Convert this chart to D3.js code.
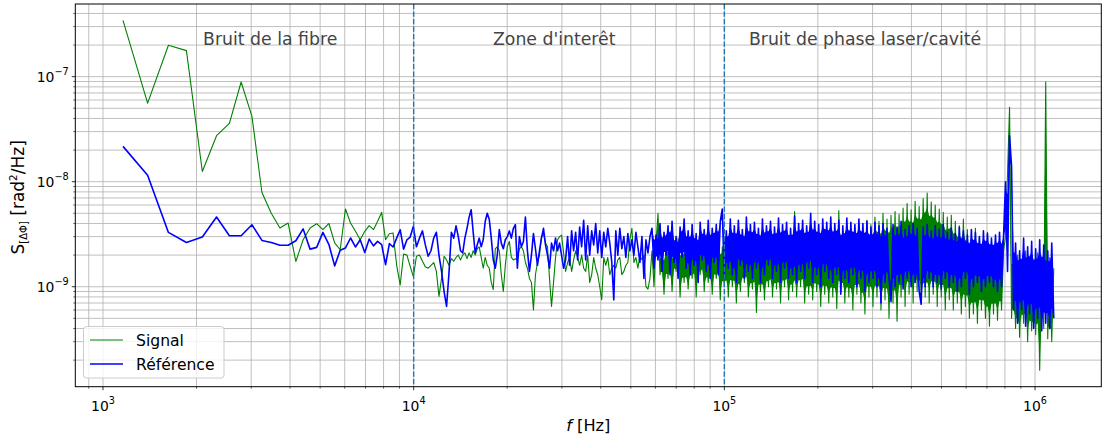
<!DOCTYPE html>
<html><head><meta charset="utf-8">
<script src="https://cdn.jsdelivr.net/npm/d3@7"></script>
<style>body{margin:0;background:#fff}svg{display:block}</style>
</head><body>
<svg id="chart" width="1102" height="439"></svg>
<script>
// ---------------- data ----------------
const binHz = 232;                       // FFT bin width
const lowBins = d3.range(5, 68);         // bins 5..67 (1160 Hz .. 15544 Hz), every bin
const highStartHz = 15776;               // dense part: sampled grid, ratio per sample
const highRatio = 1.015;
const denseFrom = 88;                    // index in the high part where the trace becomes a solid band

const signalLow = [
3.43e-7,5.6e-8,1.99e-7,1.77e-7,1.25e-8,2.74e-8,3.59e-8,8.9e-8,4.19e-8,7.9e-9,
5.0e-9,3.62e-9,4.04e-9,1.74e-9,2.8e-9,3.62e-9,3.98e-9,3.49e-9,4.0e-9,2.61e-9,
2.25e-9,5.5e-9,4.04e-9,3.37e-9,2.8e-9,3.37e-9,3.81e-9,3.49e-9,4.2e-9,5.1e-9,
2.8e-9,3.2e-9,3.25e-9,1.6e-9,1.04e-9,2.05e-9,2.0e-9,1.56e-9,1.25e-9,1.95e-9,
2.0e-9,1.75e-9,1.55e-9,1.5e-9,1.6e-9,1.7e-9,1.4e-9,8.1e-10,1.2e-9,1.95e-9,
1.8e-9,1.6e-9,1.85e-9,1.75e-9,1.9e-9,2.0e-9,1.8e-9,2.0e-9,2.1e-9,1.85e-9,
2.1e-9,1.9e-9,2.2e-9];

const referenceLow = [
2.17e-8,1.15e-8,3.29e-9,2.64e-9,2.97e-9,4.61e-9,3.06e-9,3.06e-9,3.89e-9,2.76e-9,
2.64e-9,2.48e-9,2.48e-9,2.74e-9,3.55e-9,2.28e-9,2.37e-9,3.29e-9,2.52e-9,1.58e-9,
2.22e-9,2.34e-9,2.91e-9,2.39e-9,2.8e-9,2.12e-9,2.84e-9,2.45e-9,2.7e-9,2.52e-9,
1.62e-9,2.57e-9,2.39e-9,2.9e-9,3.49e-9,2.28e-9,2.8e-9,2.97e-9,3.75e-9,2.4e-9,
2.9e-9,3.4e-9,2.5e-9,1.95e-9,2.2e-9,2.9e-9,3.3e-9,2.0e-9,1.4e-9,9.0e-10,
6.5e-10,1.35e-9,3.3e-9,2.9e-9,3.8e-9,3.0e-9,2.2e-9,2.1e-9,2.9e-9,3.6e-9,
4.6e-9,5.4e-9,3.3e-9];

const signalHigh = [
2.0e-9,2.3e-9,2.4e-9,1.9e-9,1.5e-9,1.9e-9,1.6e-9,1.5e-9,1.1e-9,9.4e-10,
2.3e-9,2.4e-9,2.2e-9,1.3e-9,9.0e-10,1.6e-9,2.4e-9,2.7e-9,1.9e-9,1.8e-9,
1.85e-9,1.8e-9,2.3e-9,2.4e-9,2.2e-9,1.7e-9,1.5e-9,1.2e-9,1.1e-9,6.0e-10,
1.3e-9,1.7e-9,2.0e-9,3.0e-9,3.2e-9,2.6e-9,2.4e-9,1.2e-9,6.5e-10,1.1e-9,
1.9e-9,2.8e-9,3.0e-9,3.1e-9,2.1e-9,1.4e-9,1.7e-9,1.9e-9,1.4e-9,1.8e-9,
2.2e-9,1.9e-9,1.6e-9,2.0e-9,1.5e-9,1.4e-9,2.0e-9,1.1e-9,1.3e-9,1.9e-9,
1.5e-9,1.3e-9,1.0e-9,7.5e-10,1.9e-9,1.6e-9,1.9e-9,1.3e-9,1.5e-9,1.6e-9,
1.5e-9,1.8e-9,1.9e-9,1.3e-9,1.4e-9,1.6e-9,1.7e-9,2.8e-9,3.6e-9,1.7e-9,
1.9e-9,1.5e-9,2.0e-9,1.8e-9,2.0e-9,1.0e-9,9.5e-10,1.2e-9,2.2e-9,1.0e-9,
2.6e-9,5.0e-9,1.3e-9,2.0e-9,8.5e-10,2.4e-9,1.2e-9,2.8e-9,9.0e-10,2.1e-9,
1.4e-9,2.9e-9,8.0e-10,2.3e-9,1.1e-9,2.6e-9,9.5e-10,2.0e-9,1.2e-9,2.7e-9,
8.0e-10,2.2e-9,1.3e-9,3.0e-9,9.0e-10,2.4e-9,1.1e-9,2.5e-9,8.5e-10,2.2e-9,
1.2e-9,2.8e-9,7.5e-10,2.4e-9,1.0e-9,2.6e-9,8.0e-10,2.9e-9,1.0e-9,2.5e-9,
7.0e-10,3.1e-9,9.0e-10,2.3e-9,1.1e-9,2.7e-9,8.0e-10,2.4e-9,9.5e-10,3.0e-9,
5.7e-10,2.6e-9,9.0e-10,2.8e-9,7.5e-10,2.4e-9,1.0e-9,3.2e-9,8.0e-10,2.5e-9,
9.5e-10,2.9e-9,7.0e-10,2.6e-9,1.0e-9,3.3e-9,7.5e-10,2.7e-9,9.0e-10,5.2e-9,
8.0e-10,2.8e-9,1.0e-9,3.4e-9,7.0e-10,2.9e-9,8.5e-10,3.1e-9,7.5e-10,3.5e-9,
9.0e-10,2.7e-9,6.5e-10,3.3e-9,8.5e-10,3.0e-9,7.0e-10,3.6e-9,8.0e-10,3.2e-9,
6.2e-10,5.3e-9,9.0e-10,3.4e-9,7.0e-10,3.8e-9,8.0e-10,3.1e-9,6.0e-10,3.6e-9,
8.5e-10,4.0e-9,7.0e-10,3.5e-9,5.5e-10,4.3e-9,8.0e-10,3.9e-9,6.5e-10,4.6e-9,
8.0e-10,4.2e-9,6.0e-10,5.0e-9,7.5e-10,4.4e-9,5.0e-10,4.8e-9,7.0e-10,5.2e-9,
4.7e-10,4.9e-9,8.0e-10,5.6e-9,6.5e-10,6.2e-9,8.5e-10,5.4e-9,7.0e-10,6.5e-9,
9.0e-10,5.8e-9,7.5e-10,6.9e-9,8.0e-10,7.8e-9,7.0e-10,6.4e-9,8.5e-10,6.0e-9,
6.5e-10,5.5e-9,8.0e-10,5.1e-9,6.0e-10,4.6e-9,7.5e-10,4.8e-9,6.0e-10,4.2e-9,
7.0e-10,3.8e-9,5.5e-10,4.4e-9,6.5e-10,3.5e-9,5.0e-10,3.2e-9,5.5e-10,3.6e-9,
4.5e-10,3.0e-9,6.0e-10,2.8e-9,5.0e-10,3.3e-9,4.2e-10,2.7e-9,5.5e-10,2.9e-9,
4.8e-10,2.5e-9,6.0e-10,2.2e-9,3.0e-9,1.21e-8,5.1e-8,5.0e-10,2.0e-9,4.0e-10,
2.0e-9,3.3e-10,1.7e-9,4.5e-10,2.2e-9,3.0e-10,1.9e-9,3.8e-10,1.6e-9,3.5e-10,
2.1e-9,1.6e-10,1.8e-9,4.0e-10,8.96e-8,3.2e-10,1.9e-9,3.0e-10,1.5e-9];

const referenceHigh = [
2.1e-9,2.5e-9,2.9e-9,2.4e-9,2.8e-9,4.2e-9,5.0e-9,4.4e-9,2.9e-9,1.8e-9,
1.5e-9,2.0e-9,3.5e-9,2.6e-9,2.3e-9,2.8e-9,3.0e-9,3.4e-9,2.9e-9,3.6e-9,
3.9e-9,1.5e-9,3.0e-9,2.4e-9,2.7e-9,4.6e-9,2.2e-9,1.4e-9,2.0e-9,3.2e-9,
2.3e-9,1.6e-9,2.2e-9,2.9e-9,3.6e-9,2.5e-9,2.0e-9,1.5e-9,2.6e-9,2.2e-9,
2.9e-9,2.2e-9,2.6e-9,2.0e-9,1.5e-9,1.8e-9,3.0e-9,1.6e-9,3.4e-9,2.2e-9,
3.3e-9,1.8e-9,3.7e-9,2.4e-9,4.3e-9,1.8e-9,3.8e-9,2.0e-9,3.4e-9,2.5e-9,
4.0e-9,2.1e-9,3.4e-9,1.9e-9,3.3e-9,2.4e-9,3.6e-9,2.6e-9,1.7e-9,7.5e-10,
3.4e-9,2.0e-9,3.6e-9,2.3e-9,3.0e-9,1.9e-9,3.2e-9,2.2e-9,2.8e-9,2.0e-9,
3.3e-9,2.4e-9,1.7e-9,3.0e-9,1.2e-9,2.8e-9,2.1e-9,3.0e-9,3.6e-9,1.5e-9,
3.1e-9,1.8e-9,4.0e-9,1.4e-9,3.3e-9,2.0e-9,3.8e-9,1.3e-9,4.2e-9,1.7e-9,
3.0e-9,1.2e-9,3.7e-9,1.9e-9,4.4e-9,1.5e-9,3.4e-9,1.3e-9,3.9e-9,1.6e-9,
3.2e-9,1.1e-9,4.1e-9,1.8e-9,3.5e-9,1.4e-9,4.3e-9,1.2e-9,3.6e-9,1.7e-9,
3.9e-9,1.3e-9,4.2e-9,5.5e-9,1.2e-9,3.4e-9,1.5e-9,4.4e-9,1.3e-9,3.8e-9,
1.1e-9,4.3e-9,1.6e-9,3.5e-9,1.2e-9,4.6e-9,1.4e-9,3.9e-9,1.2e-9,4.1e-9,
1.5e-9,3.6e-9,1.1e-9,4.4e-9,1.3e-9,3.8e-9,1.6e-9,4.2e-9,1.2e-9,3.7e-9,
1.4e-9,4.5e-9,1.1e-9,3.9e-9,1.5e-9,4.1e-9,1.2e-9,3.6e-9,1.3e-9,4.7e-9,
1.1e-9,4.0e-9,1.4e-9,4.3e-9,1.2e-9,3.8e-9,1.5e-9,5.0e-9,1.1e-9,4.2e-9,
1.3e-9,3.9e-9,1.0e-9,4.4e-9,1.4e-9,4.1e-9,1.2e-9,4.6e-9,1.1e-9,4.0e-9,
1.3e-9,4.3e-9,8.5e-10,3.8e-9,1.2e-9,4.5e-9,1.1e-9,4.1e-9,1.3e-9,3.9e-9,
1.0e-9,4.4e-9,1.2e-9,4.0e-9,9.0e-10,4.2e-9,1.1e-9,3.7e-9,1.2e-9,4.1e-9,
1.0e-9,3.8e-9,7.0e-10,4.0e-9,1.1e-9,3.6e-9,1.2e-9,7.2e-10,3.9e-9,1.0e-9,
3.7e-9,1.1e-9,4.2e-9,9.5e-10,3.5e-9,1.2e-9,3.8e-9,1.0e-9,4.0e-9,1.1e-9,
3.6e-9,9.0e-10,6.8e-10,3.7e-9,1.0e-9,3.9e-9,1.2e-9,3.4e-9,1.0e-9,3.8e-9,
1.1e-9,3.5e-9,9.5e-10,3.9e-9,1.2e-9,3.3e-9,1.0e-9,3.6e-9,1.1e-9,3.2e-9,
9.0e-10,3.7e-9,1.0e-9,3.4e-9,1.2e-9,3.1e-9,8.5e-10,3.5e-9,1.0e-9,3.3e-9,
1.1e-9,3.0e-9,9.0e-10,3.4e-9,1.0e-9,3.2e-9,1.1e-9,2.9e-9,1.0e-9,3.1e-9,
9.0e-10,3.3e-9,1.0e-9,3.0e-9,1.0e-8,1.4e-9,2.74e-8,1.4e-8,6.0e-10,2.6e-9,
4.5e-10,2.2e-9,6.0e-10,2.9e-9,4.2e-10,2.4e-9,5.5e-10,2.7e-9,4.0e-10,2.3e-9,
5.0e-10,2.8e-9,3.8e-10,2.5e-9,4.5e-10,2.2e-9,4.0e-10,2.6e-9,5.0e-10];

const seriesNames = ["Signal", "Référence"];
const seriesColors = ["#008000", "#0000ff"];
const seriesWidths = [1.1, 1.6];
const coreShare = 0.72;                  // share of the local (log) range drawn as a solid core

const xMajorTicks = [1e3, 1e4, 1e5, 1e6];
const xTickExp = ["3", "4", "5", "6"];
const yMajorTicks = [1e-9, 1e-8, 1e-7];
const yTickExp = ["\u22129", "\u22128", "\u22127"];

const regionBounds = [1e4, 1e5];
const regionLabels = ["Bruit de la fibre", "Zone d'interêt", "Bruit de phase laser/cavité"];
const regionLabelX = [2.1e3, 1.8e4, 1.2e5];
const regionLabelY = 2e-7;

// ---------------- layout ----------------
const L = 75.3, R = 1101.3, T = 4, B = 386.7;
const x = d3.scaleLog().domain([814.5, 1.634e6]).range([L, R]);
const y = d3.scaleLog().domain([1.117e-10, 4.92e-7]).range([B, T]);
const FONT = "'DejaVu Sans', sans-serif";

const svg = d3.select("#chart").style("font-family", FONT);

// minor tick positions (2..9 per decade)
const xMinor = [], yMinor = [];
for (let e = 2; e <= 6; e++) for (let m = 2; m <= 9; m++) {
  const v = m * Math.pow(10, e);
  if (v > x.domain()[0] && v < x.domain()[1]) xMinor.push(v);
}
for (let e = -10; e <= -7; e++) for (let m = 2; m <= 9; m++) {
  const v = m * Math.pow(10, e);
  if (v > y.domain()[0] && v < y.domain()[1]) yMinor.push(v);
}

// grid
const grid = svg.append("g").attr("stroke", "#b0b0b0").attr("stroke-width", 0.8);
grid.selectAll("line.gx").data(xMajorTicks.concat(xMinor)).join("line").attr("class","gx")
  .attr("x1", d => x(d)).attr("x2", d => x(d)).attr("y1", T).attr("y2", B);
grid.selectAll("line.gy").data(yMajorTicks.concat(yMinor)).join("line").attr("class","gy")
  .attr("y1", d => y(d)).attr("y2", d => y(d)).attr("x1", L).attr("x2", R);

// clip
svg.append("clipPath").attr("id", "clip").append("rect")
  .attr("x", L).attr("y", T).attr("width", R - L).attr("height", B - T);

// data
const freqLow = lowBins.map(k => k * binHz);
const buildSeries = (low, high) => freqLow.map((f, i) => [f, low[i]])
  .concat(high.map((v, i) => [highStartHz * Math.pow(highRatio, i), v]));
const series = [buildSeries(signalLow, signalHigh), buildSeries(referenceLow, referenceHigh)];
const split = lowBins.length + denseFrom;

// solid core of the dense trace (a real trace has ~10 points per pixel there)
const band = s => s.map((d, i) => {
  const p = s[Math.max(0, i - 1)][1], n = s[Math.min(s.length - 1, i + 1)][1];
  const lo = Math.log10(Math.min(d[1], Math.max(p, n)));
  const hi = Math.log10(Math.max(d[1], Math.min(p, n)));
  const mid = (lo + hi) / 2, half = (hi - lo) / 2 * coreShare;
  return [d[0], Math.pow(10, mid - half), Math.pow(10, mid + half)];
});

const line = d3.line().x(d => x(d[0])).y(d => y(d[1]));
const area = d3.area().x(d => x(d[0])).y0(d => y(d[1])).y1(d => y(d[2]));
const dataG = svg.append("g").attr("clip-path", "url(#clip)");
series.forEach((s, i) => {
  dataG.append("path").datum(band(s.slice(split))).attr("d", area)
    .attr("fill", seriesColors[i]).attr("stroke", "none");
  dataG.append("path").datum(s).attr("d", line).attr("fill", "none")
    .attr("stroke", seriesColors[i]).attr("stroke-width", seriesWidths[i])
    .attr("stroke-linejoin", "round");
});

// region separators
svg.append("g").selectAll("line").data(regionBounds).join("line")
  .attr("x1", d => x(d)).attr("x2", d => x(d)).attr("y1", T).attr("y2", B)
  .attr("stroke", "#1f77b4").attr("stroke-width", 1.4).attr("stroke-dasharray", "5.2,2.3");

// region labels
svg.append("g").selectAll("text").data(regionLabels).join("text")
  .attr("x", (d, i) => x(regionLabelX[i])).attr("y", y(regionLabelY))
  .attr("font-size", 17.3).attr("fill", "#444").text(d => d);

// frame
svg.append("rect").attr("x", L).attr("y", T).attr("width", R - L).attr("height", B - T)
  .attr("fill", "none").attr("stroke", "#000").attr("stroke-width", 1);

// ticks
const tk = svg.append("g").attr("stroke", "#000");
tk.selectAll("line.xM").data(xMajorTicks).join("line").attr("class","xM")
  .attr("x1", d => x(d)).attr("x2", d => x(d)).attr("y1", B).attr("y2", B + 3.5).attr("stroke-width", 0.8);
tk.selectAll("line.xm").data(xMinor).join("line").attr("class","xm")
  .attr("x1", d => x(d)).attr("x2", d => x(d)).attr("y1", B).attr("y2", B + 2).attr("stroke-width", 0.6);
tk.selectAll("line.yM").data(yMajorTicks).join("line").attr("class","yM")
  .attr("y1", d => y(d)).attr("y2", d => y(d)).attr("x1", L).attr("x2", L - 3.5).attr("stroke-width", 0.8);
tk.selectAll("line.ym").data(yMinor).join("line").attr("class","ym")
  .attr("y1", d => y(d)).attr("y2", d => y(d)).attr("x1", L).attr("x2", L - 2).attr("stroke-width", 0.6);

// tick labels
const tfs = 13.9;
const xl = svg.append("g").selectAll("text").data(xMajorTicks).join("text")
  .attr("x", d => x(d)).attr("y", B + 24).attr("text-anchor", "middle")
  .attr("font-size", tfs).attr("fill", "#000");
xl.append("tspan").text("10");
xl.append("tspan").attr("font-size", tfs * 0.7).attr("dy", -tfs * 0.45).text((d, i) => xTickExp[i]);

const yl = svg.append("g").selectAll("text").data(yMajorTicks).join("text")
  .attr("x", L - 6.5).attr("y", d => y(d) + 5).attr("text-anchor", "end")
  .attr("font-size", tfs).attr("fill", "#000");
yl.append("tspan").text("10");
yl.append("tspan").attr("font-size", tfs * 0.7).attr("dy", -tfs * 0.45).text((d, i) => yTickExp[i]);

// axis labels
const xlab = svg.append("text").attr("x", (L + R) / 2).attr("y", 431)
  .attr("text-anchor", "middle").attr("font-size", 16.2).attr("fill", "#000");
xlab.append("tspan").attr("font-style", "italic").text("f");
xlab.append("tspan").text(" [Hz]");

const ylab = svg.append("text").attr("transform", "translate(23.5,197.3) rotate(-90)")
  .attr("text-anchor", "middle").attr("font-size", 17).attr("fill", "#000");
ylab.append("tspan").text("S");
ylab.append("tspan").attr("font-size", 10).attr("dy", 3.5).text("[\u0394\u03a6]");
ylab.append("tspan").attr("dy", -3.5).text(" [rad");
ylab.append("tspan").attr("font-size", 10.5).attr("dy", -7).text("2");
ylab.append("tspan").attr("dy", 7).text("/Hz]");

// legend
const lg = svg.append("g");
lg.append("rect").attr("x", 83.5).attr("y", 326.5).attr("width", 140.5).attr("height", 51.5)
  .attr("rx", 3).attr("fill", "#fff").attr("fill-opacity", 0.8).attr("stroke", "#cccccc").attr("stroke-width", 1);
seriesNames.forEach((n, i) => {
  const yy = 340 + i * 24;
  lg.append("line").attr("x1", 90).attr("x2", 123).attr("y1", yy).attr("y2", yy)
    .attr("stroke", seriesColors[i]).attr("stroke-width", seriesWidths[i]);
  lg.append("text").attr("x", 136).attr("y", yy + 5.8).attr("font-size", 15.6).attr("fill", "#000").text(n);
});
</script>
</body></html>
